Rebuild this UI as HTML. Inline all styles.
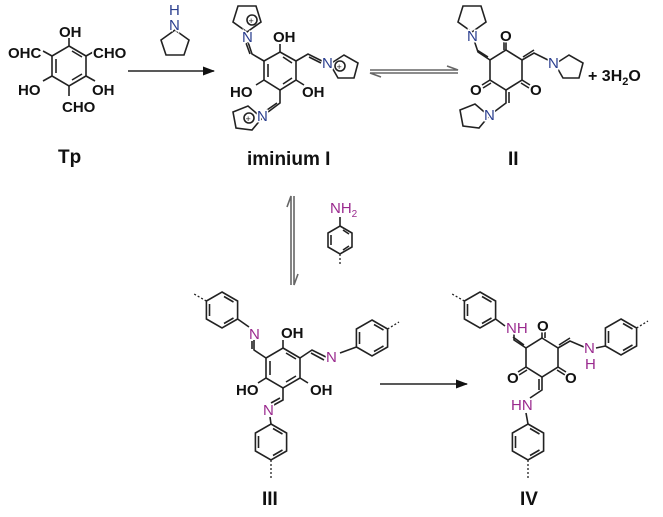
<!DOCTYPE html>
<html><head><meta charset="utf-8"><style>
html,body{margin:0;padding:0;background:#fff;}
svg{display:block;}
text{font-family:"Liberation Sans",sans-serif;font-weight:bold;paint-order:stroke;stroke:#fff;stroke-width:3px;}
.l{fill:none;stroke:#222;stroke-width:1.6;}
.g{fill:none;stroke:#666;stroke-width:1.6;}
.a{font-size:15px;fill:#111;}
.n{font-size:15px;fill:#2b3f8f;font-weight:normal;}
.p{font-size:15px;fill:#9a2a8e;font-weight:normal;}
.lab{font-size:19px;fill:#111;stroke:none;}
.d{fill:none;stroke:#222;stroke-width:1.3;stroke-dasharray:2 2;}
</style></head><body>
<svg width="663" height="517" viewBox="0 0 663 517">
<defs>
<marker id="ah" markerWidth="12" markerHeight="9" refX="11" refY="4.5" orient="auto" markerUnits="userSpaceOnUse"><path d="M0,0 L12,4.5 L0,9 z" fill="#111"/></marker>
<g id="ph">
<polygon class="l" points="0,-18 15.6,-9 15.6,9 0,18 -15.6,9 -15.6,-9"/>
<path class="l" d="M2,-13.5 L11.5,-8 M11.5,8 L2,13.5 M-12.5,6 L-12.5,-6"/>
</g>
</defs>

<!-- Tp -->
<polygon class="l" points="69,46 86,56 86,76 69,86 52,76 52,56"/>
<path class="l" d="M72,51 L82,57 M82,74 L72,80 M56,73 L56,59"/>
<path class="l" d="M69,46 L69,38 M86,56 L95,51 M52,56 L43,51 M52,76 L43,81 M86,76 L95,81 M69,86 L69,96"/>
<text class="a" x="59" y="37">OH</text>
<text class="a" x="93" y="58">CHO</text>
<text class="a" x="8" y="58">OHC</text>
<text class="a" x="18" y="95">HO</text>
<text class="a" x="92" y="95">OH</text>
<text class="a" x="62" y="112">CHO</text>
<text class="lab" x="58" y="163">Tp</text>

<!-- pyrrolidine reagent -->
<polygon class="l" points="175,30 189,40 184,55 166,55 161,40"/>
<text class="n" x="169" y="30">N</text>
<text class="n" x="169" y="15">H</text>
<line class="l" x1="128" y1="71" x2="214" y2="71" marker-end="url(#ah)"/>

<!-- iminium I -->
<polygon class="l" points="280,52 296,61 296,80 280,90 264,80 264,61"/>
<path class="l" d="M283,57 L292,63 M292,78 L283,84 M268,77 L268,64"/>
<path class="l" d="M280,52 L280,44 M264,80 L256,85 M296,80 L304,85"/>
<text class="a" x="273" y="42">OH</text>
<text class="a" x="230" y="97">HO</text>
<text class="a" x="302" y="97">OH</text>
<path class="l" d="M264,61 L252,54 L248,42 M250,54 L246,43"/>
<polygon class="l" points="247,32 261,22 256,6 238,6 233,22"/>
<text class="n" x="242" y="42">N</text>
<circle cx="252" cy="20" r="5" class="l"/><text x="248.5" y="24" style="font-size:9px;stroke:none;fill:#222;font-weight:normal">+</text>
<path class="l" d="M296,61 L308,54 L322,61 M309,57 L321,63"/>
<polygon class="l" points="330,64 344,55 358,63 354,78 338,78"/>
<text class="n" x="322" y="68">N</text>
<circle cx="340" cy="66" r="5" class="l"/><text x="336.5" y="70" style="font-size:9px;stroke:none;fill:#222;font-weight:normal">+</text>
<path class="l" d="M280,90 L280,103 L268,112 M277,103 L267,110"/>
<polygon class="l" points="262,118 252,130 236,128 233,112 248,106"/>
<text class="n" x="257" y="121">N</text>
<circle cx="249" cy="118" r="5" class="l"/><text x="245.5" y="122" style="font-size:9px;stroke:none;fill:#222;font-weight:normal">+</text>
<text class="lab" x="247" y="165">iminium I</text>

<!-- equilibrium horizontal -->
<path class="g" d="M370,70 L458,70 L447,66"/>
<path class="g" d="M458,73 L370,73 L381,77"/>

<!-- II -->
<polygon class="l" points="506,50 522,60 522,80 506,90 490,80 490,60"/>
<path class="l" d="M506,50 L506,42 M504,50 L504,42 M490,80 L482,85 M491,83 L483,88 M522,80 L530,85 M521,83 L529,88"/>
<text class="a" x="500" y="41">O</text>
<text class="a" x="470" y="95">O</text>
<text class="a" x="530" y="95">O</text>
<path class="l" d="M490,60 L478,52 L474,40 M488,57 L477,50"/>
<polygon class="l" points="472,32 486,22 481,6 463,6 458,22"/>
<text class="n" x="467" y="41">N</text>
<path class="l" d="M522,60 L534,53 L548,60 M523,57 L534,50"/>
<polygon class="l" points="555,64 569,55 583,63 579,78 563,78"/>
<text class="n" x="548" y="68">N</text>
<path class="l" d="M506,90 L506,103 L494,112 M509,92 L509,103"/>
<polygon class="l" points="489,116 479,128 463,126 460,110 475,104"/>
<text class="n" x="484" y="120">N</text>
<text class="a" x="588" y="81" style="font-size:16px">+ 3H<tspan dy="4" font-size="11">2</tspan><tspan dy="-4">O</tspan></text>
<text class="lab" x="508" y="165">II</text>

<!-- vertical equilibrium -->
<path class="g" d="M291,285 L291,196 L287,207"/>
<path class="g" d="M294,196 L294,285 L298,274"/>

<!-- aniline -->
<polygon class="l" points="340,226 352,233 352,247 340,254 328,247 328,233"/>
<path class="l" d="M340,226 L340,217 M343,230 L349,234 M349,246 L343,250 M331,245 L331,235"/>
<path class="d" d="M340,254 L340,266"/>
<text class="p" x="330" y="213">NH<tspan dy="4" font-size="10">2</tspan></text>

<!-- III -->
<polygon class="l" points="283,348 300,358 300,378 283,388 266,378 266,358"/>
<path class="l" d="M286,353 L296,359 M296,376 L286,382 M270,375 L270,361"/>
<path class="l" d="M283,348 L283,340 M266,378 L258,383 M300,378 L308,383"/>
<text class="a" x="281" y="338">OH</text>
<text class="a" x="236" y="395">HO</text>
<text class="a" x="310" y="395">OH</text>
<path class="l" d="M266,358 L254,350 L254,340 M252,349 L252,341"/>
<text class="p" x="249" y="339">N</text>
<use href="#ph" x="222" y="310"/>
<path class="l" d="M237.6,319 L249,327"/>
<path class="d" d="M206.4,301 L194,294"/>
<path class="l" d="M300,358 L312,350 L326,357 M311,353 L324,360"/>
<text class="p" x="326" y="362">N</text>
<use href="#ph" x="372" y="338"/>
<path class="l" d="M340,353 L356.4,347"/>
<path class="d" d="M387.6,329 L399,322"/>
<path class="l" d="M283,388 L283,400 L272,406 M280,398 L271,403"/>
<text class="p" x="263" y="415">N</text>
<use href="#ph" x="271" y="442"/>
<path class="l" d="M271,424 L270,417"/>
<path class="d" d="M271,460 L271,480"/>
<text class="lab" x="262" y="505">III</text>

<line class="l" x1="380" y1="384" x2="467" y2="384" marker-end="url(#ah)"/>

<!-- IV -->
<polygon class="l" points="542,338 558,348 558,367 542,377 526,367 526,348"/>
<path class="l" d="M542,338 L542,330 M545,338 L545,330 M526,367 L518,372 M527,370 L519,375 M558,367 L566,372 M557,370 L565,375"/>
<text class="a" x="537" y="331">O</text>
<text class="a" x="507" y="383">O</text>
<text class="a" x="565" y="383">O</text>
<path class="l" d="M526,348 L514,340 L514,334 M524,345 L513,337"/>
<text class="p" x="506" y="333">NH</text>
<use href="#ph" x="480" y="310"/>
<path class="l" d="M495.6,319 L505,326"/>
<path class="d" d="M464.4,301 L452,294"/>
<path class="l" d="M558,348 L570,341 L584,347 M559,345 L570,338"/>
<text class="p" x="584" y="353">N</text>
<text class="p" x="585" y="369">H</text>
<use href="#ph" x="621" y="337"/>
<path class="l" d="M596,348 L605.4,346"/>
<path class="d" d="M636.6,328 L648,321"/>
<path class="l" d="M542,377 L542,390 L530,398 M539,379 L539,390"/>
<text class="p" x="511" y="410">HN</text>
<use href="#ph" x="528" y="442"/>
<path class="l" d="M528,424 L526,413"/>
<path class="d" d="M528,460 L528,480"/>
<text class="lab" x="520" y="505">IV</text>
</svg>
</body></html>
